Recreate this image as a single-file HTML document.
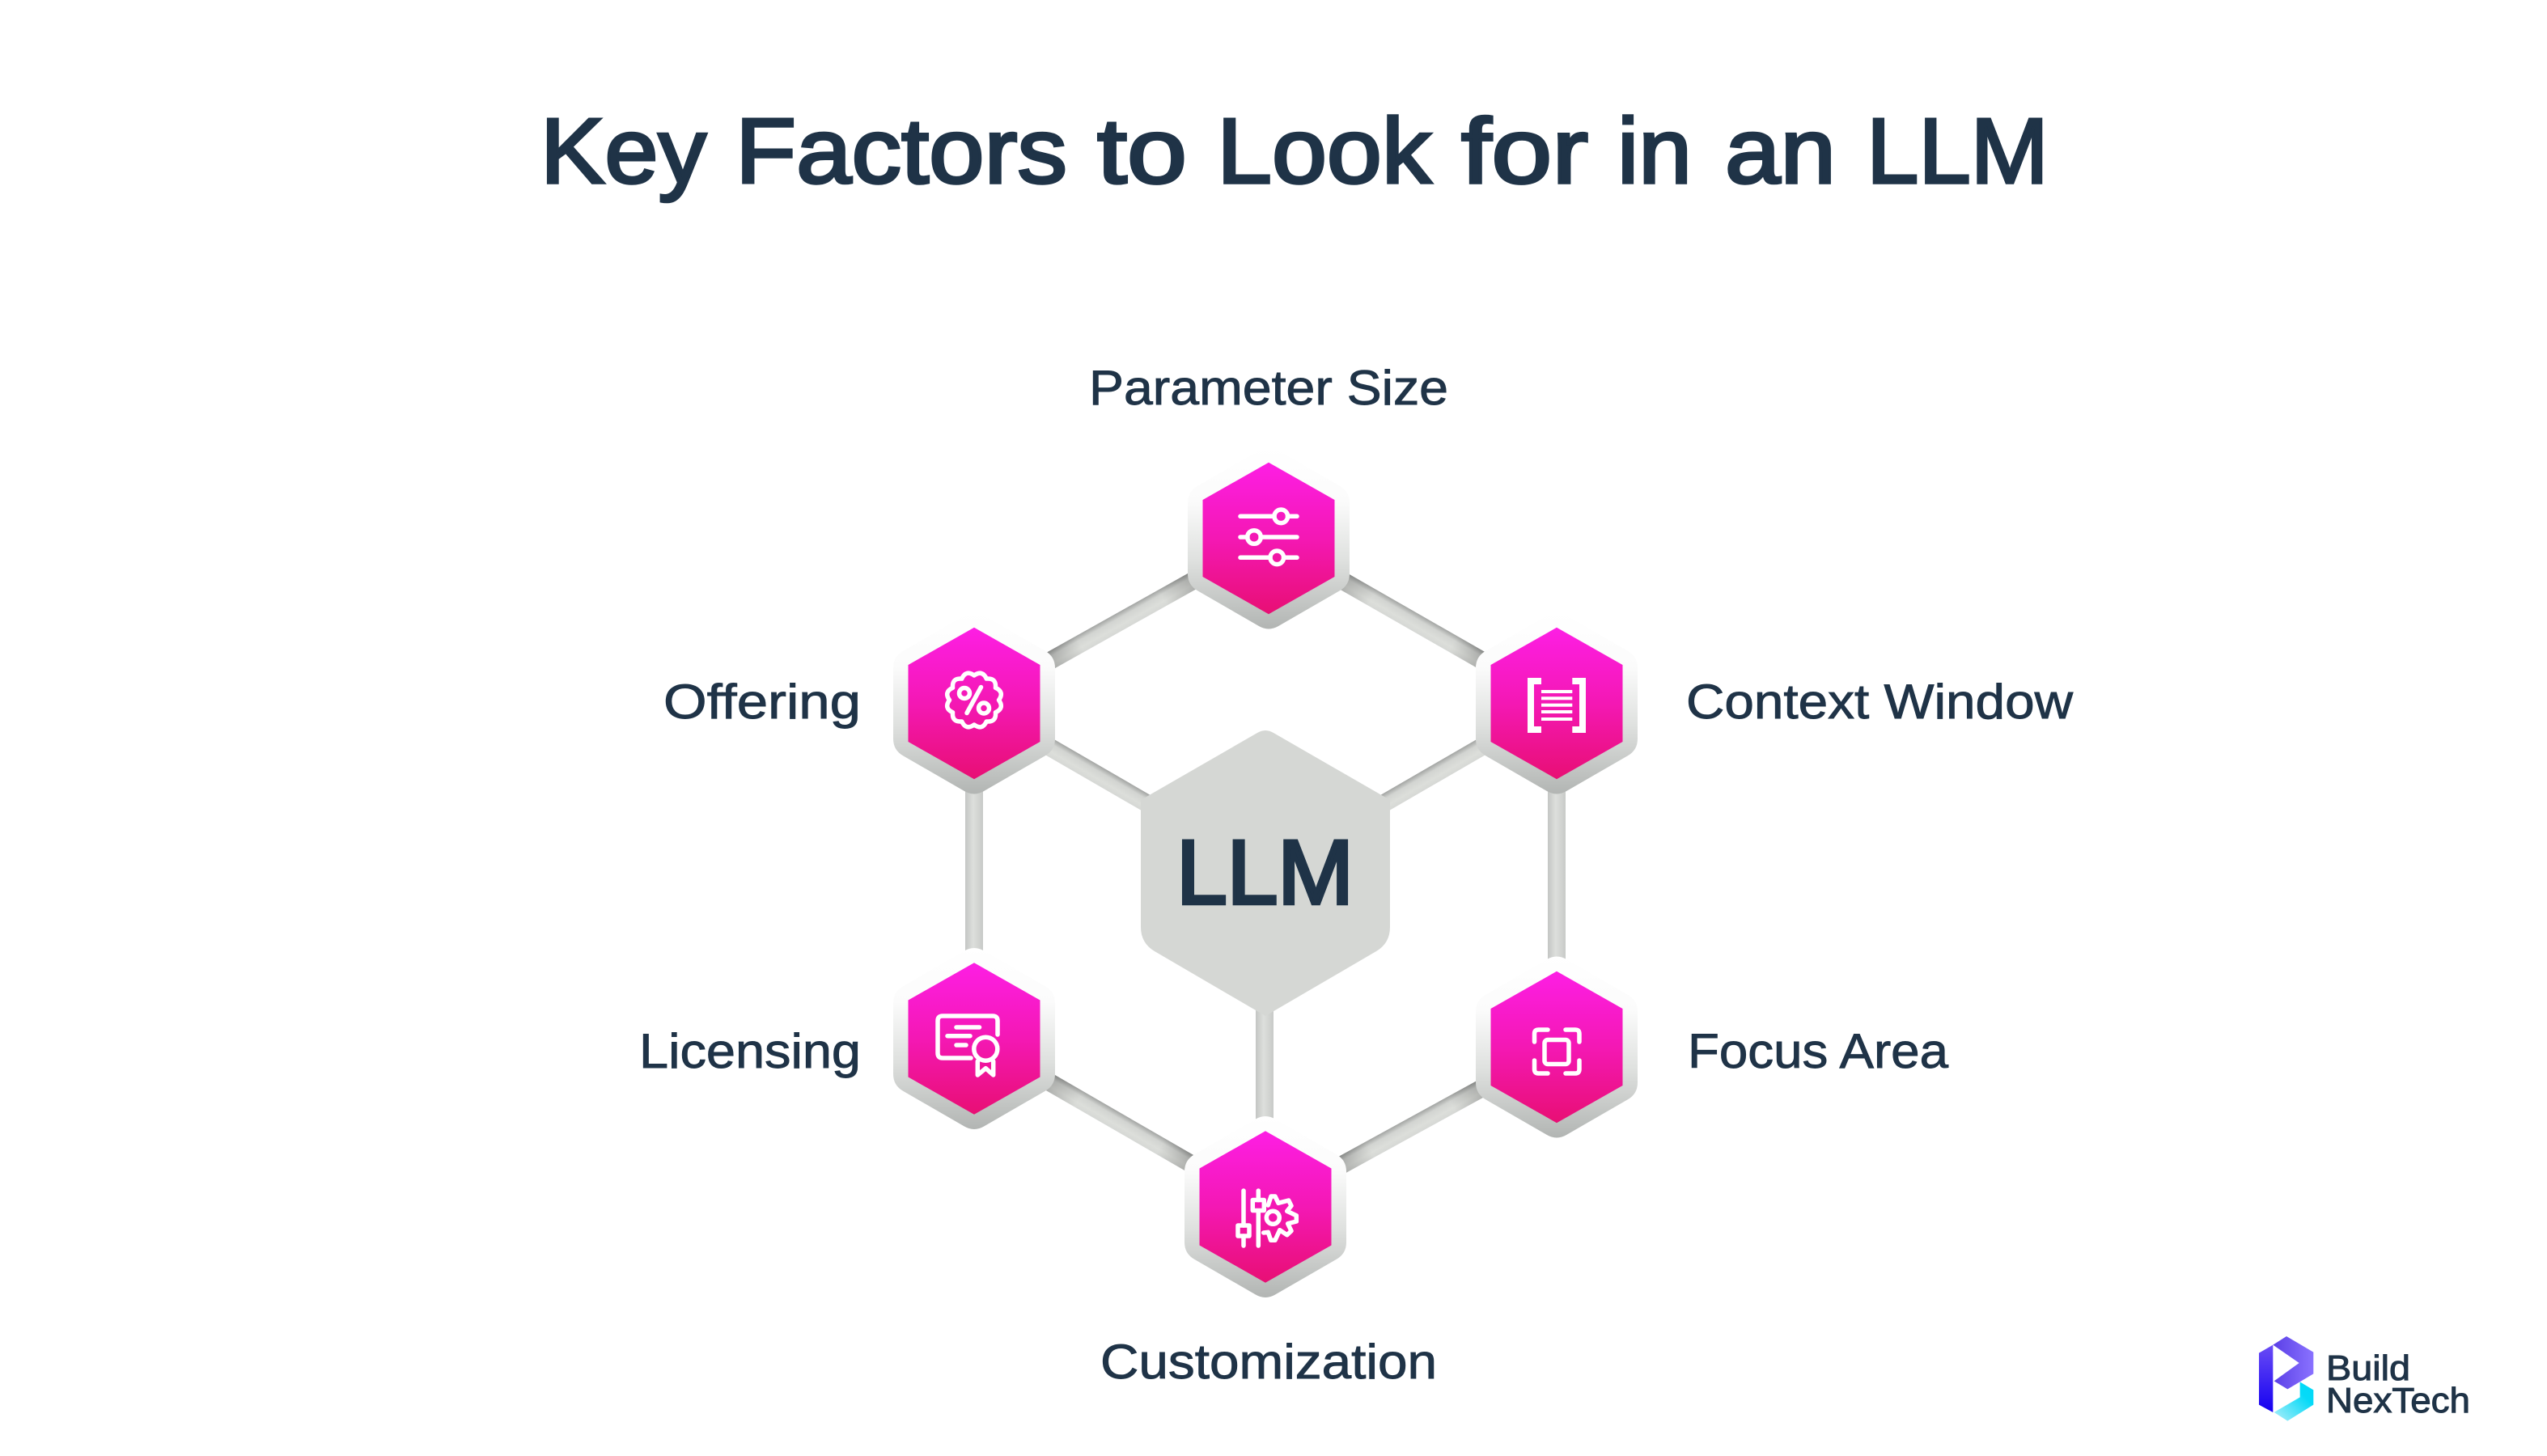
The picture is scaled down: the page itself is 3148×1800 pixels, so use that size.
<!DOCTYPE html>
<html lang="en">
<head>
<meta charset="utf-8">
<title>Key Factors to Look for in an LLM</title>
<style>
html,body{margin:0;padding:0;background:#fff;width:3148px;height:1800px;overflow:hidden}
svg{display:block}
text{font-family:"Liberation Sans",sans-serif;fill:#1f3347}
.l{font-size:60px;stroke:#1f3347;stroke-width:.9px}
.h{stroke:#1f3347}
.ic{fill:none;stroke:#fff;stroke-linecap:round;stroke-linejoin:round}
</style>
</head>
<body>
<svg width="3148" height="1800" viewBox="0 0 3148 1800" xmlns="http://www.w3.org/2000/svg">
<defs>
<linearGradient id="pink" x1="0" y1="0" x2="0" y2="1">
<stop offset="0" stop-color="#fd1ee4"/><stop offset=".5" stop-color="#f418b4"/><stop offset="1" stop-color="#e80f74"/>
</linearGradient>
<linearGradient id="outer" x1="0" y1="0" x2="0" y2="1">
<stop offset="0" stop-color="#ffffff"/><stop offset=".3" stop-color="#fbfbfb"/><stop offset=".62" stop-color="#dfe1df"/><stop offset="1" stop-color="#b2b5b3"/>
</linearGradient>
<linearGradient id="cd" x1="0" y1="0" x2="0" y2="1">
<stop offset="0" stop-color="#a2a4a2"/><stop offset=".3" stop-color="#d2d4d1"/><stop offset=".7" stop-color="#dcdeda"/><stop offset="1" stop-color="#d6d8d5"/>
</linearGradient>
<linearGradient id="cv" x1="0" y1="0" x2="1" y2="0">
<stop offset="0" stop-color="#c4c6c4"/><stop offset=".45" stop-color="#dddfdc"/><stop offset="1" stop-color="#c8cac8"/>
</linearGradient>
<linearGradient id="end" x1="0" y1="0" x2="1" y2="0">
<stop offset=".22" stop-color="#000" stop-opacity=".28"/><stop offset=".36" stop-color="#000" stop-opacity="0"/>
<stop offset=".64" stop-color="#000" stop-opacity="0"/><stop offset=".78" stop-color="#000" stop-opacity=".28"/>
</linearGradient>
<linearGradient id="lgA" x1="0" y1="1" x2="0" y2="0"><stop offset="0" stop-color="#1400f0"/><stop offset="1" stop-color="#6a4cf5"/></linearGradient>
<linearGradient id="lgB" x1="0" y1="0" x2="1" y2="0"><stop offset="0" stop-color="#5a3fe6"/><stop offset="1" stop-color="#8a72ff"/></linearGradient>
<linearGradient id="lgC" x1="0" y1="1" x2="1" y2="0"><stop offset="0" stop-color="#b0eef9"/><stop offset=".7" stop-color="#05daf8"/><stop offset="1" stop-color="#00d8f8"/></linearGradient>
<g id="hex">
<path fill="url(#outer)" d="M-12.1,-108.5 Q0,-115.5 12.1,-108.5 L87.9,-64.7 Q100,-57.7 100,-43.7 L100,43.7 Q100,57.7 87.9,64.7 L12.1,108.5 Q0,115.5 -12.1,108.5 L-87.9,64.7 Q-100,57.7 -100,43.7 L-100,-43.7 Q-100,-57.7 -87.9,-64.7 Z"/>
<polygon fill="url(#pink)" points="0,-93.7 81.5,-47.5 81.5,47.5 0,93.7 -81.5,47.5 -81.5,-47.5"/>
</g>
</defs>

<rect width="3148" height="1800" fill="#fff"/>

<g class="h" font-size="114" stroke-width="3.5">
<text class="h" x="668" y="226" textLength="205" lengthAdjust="spacingAndGlyphs">Key</text>
<text class="h" x="909" y="226" textLength="410" lengthAdjust="spacingAndGlyphs">Factors</text>
<text class="h" x="1356" y="226" textLength="111" lengthAdjust="spacingAndGlyphs">to</text>
<text class="h" x="1504" y="226" textLength="265" lengthAdjust="spacingAndGlyphs">Look</text>
<text class="h" x="1806" y="226" textLength="157" lengthAdjust="spacingAndGlyphs">for</text>
<text class="h" x="1999" y="226" textLength="92" lengthAdjust="spacingAndGlyphs">in</text>
<text class="h" x="2132" y="226" textLength="137" lengthAdjust="spacingAndGlyphs">an</text>
<text class="h" x="2307" y="226" textLength="225" lengthAdjust="spacingAndGlyphs">LLM</text>
</g>

<!-- diagonal connectors -->
<g transform="translate(1204,869.5) rotate(-29.27)"><rect y="-11" width="417.3" height="22" fill="url(#cd)"/><rect y="-11" width="417.3" height="22" fill="url(#end)"/></g>
<g transform="translate(1568,665.5) rotate(29.81)"><rect y="-11" width="410.3" height="22" fill="url(#cd)"/><rect y="-11" width="410.3" height="22" fill="url(#end)"/></g>
<g transform="translate(1204,869.5) rotate(30.08)"><rect y="-11" width="300" height="22" fill="url(#cd)"/></g>
<g transform="translate(1564,1078) rotate(-30.08)"><rect x="116" y="-11" width="300" height="22" fill="url(#cd)"/></g>
<g transform="translate(1204,1284) rotate(30.02)"><rect y="-11" width="415.8" height="22" fill="url(#cd)"/><rect y="-11" width="415.8" height="22" fill="url(#end)"/></g>
<g transform="translate(1564,1492) rotate(-28.75)"><rect y="-11" width="410.6" height="22" fill="url(#cd)"/><rect y="-11" width="410.6" height="22" fill="url(#end)"/></g>

<!-- vertical connectors -->
<rect x="1193" y="960" width="22" height="240" fill="url(#cv)"/>
<rect x="1913" y="960" width="22" height="250" fill="url(#cv)"/>
<rect x="1552" y="1240" width="22" height="160" fill="url(#cv)"/>

<!-- centre hexagon -->
<path fill="#d5d7d4" d="M1554,906 Q1564,900 1574,906 L1718,989 L1718,1146 Q1718,1166 1701,1176 L1564,1256 L1427,1176 Q1410,1166 1410,1146 L1410,989 Z"/>
<text class="h" x="1454" y="1117" font-size="112" stroke-width="4.5" textLength="219" lengthAdjust="spacingAndGlyphs">LLM</text>

<!-- nodes -->
<use href="#hex" x="1568" y="665.5"/>
<use href="#hex" x="1204" y="869.5"/>
<use href="#hex" x="1924" y="869.5"/>
<use href="#hex" x="1204" y="1284"/>
<use href="#hex" x="1924" y="1294.5"/>
<use href="#hex" x="1564" y="1492"/>

<!-- sliders icon -->
<g class="ic" stroke-width="5.5">
<path d="M1533,638.3 H1575 M1591.5,638.3 H1603 M1533,664 H1542 M1558,664 H1603 M1533,689.3 H1570 M1586.5,689.3 H1603"/>
<circle cx="1583.3" cy="638.3" r="8.3"/><circle cx="1550" cy="664" r="8.3"/><circle cx="1578.3" cy="689.3" r="8.3"/>
</g>

<!-- percent badge icon -->
<g class="ic" stroke-width="5.5" transform="translate(1204,865.5)">
<path transform="rotate(15)" d="M29.5,-7.9 Q39,0 29.5,7.9 Q33.8,19.5 21.6,21.6 Q19.5,33.8 7.9,29.5 Q0,39 -7.9,29.5 Q-19.5,33.8 -21.6,21.6 Q-33.8,19.5 -29.5,7.9 Q-39,0 -29.5,-7.9 Q-33.8,-19.5 -21.6,-21.6 Q-19.5,-33.8 -7.9,-29.5 Q0,-39 7.9,-29.5 Q19.5,-33.8 21.6,-21.6 Q33.8,-19.5 29.5,-7.9 Z"/>
<circle cx="-12" cy="-8.5" r="6.5"/><circle cx="12" cy="10" r="6.5"/>
<path d="M8.5,-16 L-9,16" stroke-width="5.5"/>
</g>

<!-- context window icon -->
<path d="M1905,842 H1892 V902 H1905 M1943.3,842 H1956 V902 H1943.3" fill="none" stroke="#fff" stroke-width="8"/>
<g fill="#fff">
<rect x="1905" y="853" width="38.3" height="4"/><rect x="1905" y="861.3" width="38.3" height="4"/><rect x="1905" y="869.7" width="38.3" height="4"/><rect x="1905" y="878" width="38.3" height="4"/><rect x="1905" y="887" width="38.3" height="4"/>
</g>

<!-- licence icon -->
<g class="ic" stroke-width="5.5">
<path d="M1233,1279 V1262 Q1233,1256 1227,1256 H1165 Q1159,1256 1159,1262 V1302 Q1159,1308 1165,1308 H1200"/>
<path d="M1182,1270 H1210.5 M1171,1280.7 H1199 M1182,1292 H1194"/>
<circle cx="1218.3" cy="1296.7" r="14.5"/>
<path d="M1208.3,1312 V1329 L1218.3,1320.7 L1227.7,1329 V1312"/>
</g>

<!-- focus icon -->
<g class="ic" stroke-width="5.5">
<path d="M1896.5,1288 V1278 Q1896.5,1273 1901.5,1273 H1913 M1935,1273 H1947 Q1952,1273 1952,1278 V1288 M1952,1311 V1322 Q1952,1327 1947,1327 H1935 M1913,1327 H1901.5 Q1896.5,1327 1896.5,1322 V1311"/>
<rect x="1909" y="1285.5" width="30" height="30" rx="4"/>
</g>

<!-- customization icon -->
<g class="ic" stroke-width="5.5">
<path d="M1537,1472 V1515 M1537,1528 V1540 M1555.3,1472 V1483.5 M1555.3,1496.7 V1540"/>
<rect x="1530" y="1515" width="14" height="13"/><rect x="1548.3" y="1483.5" width="14" height="13"/>
<circle cx="1573.3" cy="1505.3" r="8"/>
<path d="M1567.3,1490 L1571,1479 H1576 L1580,1487.3 L1592.7,1484 L1596,1490.7 L1590.7,1497.3 L1602.3,1502.7 V1510 L1591.7,1512.7 L1596,1521.7 L1590.7,1526.7 L1581.7,1520.7 L1576,1533.3 H1570.7 L1567.3,1523.3 L1561.7,1524"/>
</g>

<!-- labels -->
<text class="l" x="1346" y="500" textLength="444" lengthAdjust="spacingAndGlyphs">Parameter Size</text>
<text class="l" x="820" y="888" textLength="244" lengthAdjust="spacingAndGlyphs">Offering</text>
<text class="l" x="2084" y="888" textLength="478" lengthAdjust="spacingAndGlyphs">Context Window</text>
<text class="l" x="790" y="1320" textLength="274" lengthAdjust="spacingAndGlyphs">Licensing</text>
<text class="l" x="2086" y="1320" textLength="322" lengthAdjust="spacingAndGlyphs">Focus Area</text>
<text class="l" x="1360" y="1704" textLength="416" lengthAdjust="spacingAndGlyphs">Customization</text>

<!-- logo -->
<g transform="translate(2740,1620) scale(.3333)">
<polygon fill="url(#lgA)" points="156,158 208,128 208,378 156,350"/>
<polygon fill="url(#lgB)" points="208,128 258,96 358,155 358,235 262,292 212,262 305,195"/>
<polygon fill="url(#lgC)" points="308,265 358,295 358,350 262,410 212,378 308,322"/>
</g>
<text x="2875" y="1706" font-size="44" textLength="104" lengthAdjust="spacingAndGlyphs" stroke="#1f3347" stroke-width="1">Build</text>
<text x="2875" y="1746" font-size="44" textLength="178" lengthAdjust="spacingAndGlyphs" stroke="#1f3347" stroke-width="1">NexTech</text>
</svg>
</body>
</html>
